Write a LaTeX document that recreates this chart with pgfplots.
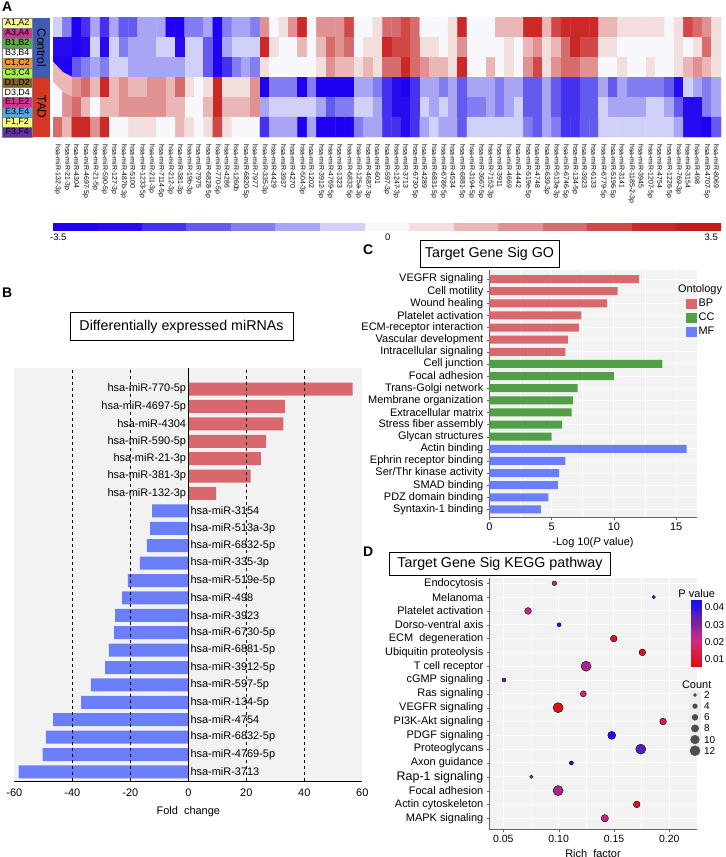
\documentclass[border=0pt]{standalone}
\usepackage{fontspec}
\setmainfont{Liberation Sans}
\usepackage{pgfplots}
\pgfplotsset{compat=1.18}

\newcommand{\fsz}[1]{\fontsize{#1}{#1}\selectfont}

\definecolor{upred}{RGB}{217,104,110}
\definecolor{dnblue}{RGB}{106,127,247}
\definecolor{ccgreen}{RGB}{82,160,70}
\definecolor{ctrlblue}{RGB}{60,92,182}
\definecolor{tadred}{RGB}{214,56,38}
\definecolor{sYel}{RGB}{250,250,130}
\definecolor{sMag}{RGB}{212,50,150}
\definecolor{sGrn}{RGB}{90,170,70}
\definecolor{sOra}{RGB}{240,150,50}
\definecolor{sLim}{RGB}{170,240,60}
\definecolor{sBrn}{RGB}{130,95,35}
\definecolor{sLbl}{RGB}{90,165,225}
\definecolor{sPur}{RGB}{100,50,160}

\pgfplotsset{
  every axis/.append style={/pgf/number format/assume math mode=true},
  twodec/.style={/pgf/number format/fixed, /pgf/number format/fixed zerofill,
    /pgf/number format/precision=2},
  colormap={pv}{rgb255(5.7pt)=(216,16,16) rgb255(10pt)=(216,24,40) rgb255(15pt)=(214,32,80)
    rgb255(20pt)=(210,40,128) rgb255(25pt)=(176,40,144) rgb255(30pt)=(128,32,160)
    rgb255(35pt)=(96,32,184) rgb255(40pt)=(48,16,224) rgb255(44.2pt)=(24,16,240)},
  colormap={heat}{rgb255=(32,0,240) rgb255=(40,10,238) rgb255=(70,50,238)
    rgb255=(100,90,240) rgb255=(130,125,242) rgb255=(168,165,245) rgb255=(208,208,248)
    rgb255=(248,248,252) rgb255=(243,222,222) rgb255=(234,182,182) rgb255=(224,146,146)
    rgb255=(215,108,108) rgb255=(208,72,72) rgb255=(203,40,40) rgb255=(200,28,28)},
}

\begin{document}
\begin{tikzpicture}
\useasboundingbox (0,0) rectangle (726bp,-857bp);

%% ---------- A: heatmap
\begin{axis}[
  at={(53bp,-137bp)}, anchor=south west,
  scale only axis, width=668bp, height=120bp,
  xmin=-0.5, xmax=70.5, ymin=-0.5, ymax=5.5, y dir=reverse,
  axis line style={draw=none}, major tick length=0pt,
  ytick=\empty, xtick={0,...,70},
  xticklabels={hsa-miR-132-3p,hsa-miR-21-3p,hsa-miR-4304,hsa-miR-4697-5p,hsa-miR-21-5p,
    hsa-miR-590-5p,hsa-miR-127-3p,hsa-miR-487b-3p,hsa-miR-5100,hsa-miR-1233-5p,
    hsa-miR-211-3p,hsa-miR-7114-5p,hsa-miR-212-3p,hsa-miR-381-3p,hsa-miR-19b-3p,
    hsa-miR-7975,hsa-miR-6828-5p,hsa-miR-770-5p,hsa-miR-4286,hsa-miR-1260b,
    hsa-miR-6820-5p,hsa-miR-7977,hsa-miR-335-3p,hsa-miR-4429,hsa-miR-3937,
    hsa-miR-4270,hsa-miR-504-3p,hsa-miR-1202,hsa-miR-3912-5p,hsa-miR-4769-5p,
    hsa-miR-1323,hsa-miR-6832-5p,hsa-miR-125a-3p,hsa-miR-4687-3p,hsa-miR-601,
    hsa-miR-597-3p,hsa-miR-1247-3p,hsa-miR-3713,hsa-miR-6730-5p,hsa-miR-4289,
    hsa-miR-6831-5p,hsa-miR-6786-5p,hsa-miR-4534,hsa-miR-6881-5p,hsa-miR-3194-5p,
    hsa-miR-3667-5p,hsa-miR-7152-3p,hsa-miR-3911,hsa-miR-4669,hsa-miR-4442,
    hsa-miR-519e-5p,hsa-miR-4748,hsa-miR-639-3p,hsa-miR-513a-3p,hsa-miR-6746-5p,
    hsa-miR-134-5p,hsa-miR-3923,hsa-miR-6133,hsa-miR-6779-5p,hsa-miR-5196-5p,
    hsa-miR-3141,hsa-miR-1185-2-3p,hsa-miR-3945,hsa-miR-1207-5p,hsa-miR-4754,
    hsa-miR-1226-5p,hsa-miR-769-3p,hsa-miR-3154,hsa-miR-498,hsa-miR-4707-5p,hsa-miR-8069},
  xticklabel style={rotate=-90, anchor=west, font=\fsz{7}, inner sep=0pt},
  xticklabel shift=7bp,
  colormap name=heat, colormap access=direct,
]
\addplot[matrix plot*, mesh/cols=71, mesh/rows=6, point meta=explicit]
  table[header=false, row sep=\\, x expr={mod(\coordindex,71)}, y expr={floor(\coordindex/71)},
        meta expr={int(\thisrowno{0}+7)}] {
-1\\-3\\-7\\-5\\-2\\-5\\-2\\-4\\-4\\-2\\-2\\-2\\-7\\-7\\-3\\-3\\-2\\-7\\-3\\-2\\-2\\-3\\
3\\0\\1\\3\\6\\0\\3\\3\\3\\5\\0\\0\\1\\4\\4\\5\\4\\0\\0\\0\\1\\6\\0\\0\\0\\2\\2\\2\\6\\6\\2\\5\\6\\6\\6\\6\\2\\2\\1\\1\\1\\1\\1\\0\\1\\5\\4\\3\\1\\
-6\\-6\\-7\\-6\\-1\\-6\\-1\\-3\\-2\\-2\\-2\\-1\\-1\\-6\\-1\\-1\\-4\\-7\\-2\\-1\\-1\\-1\\
6\\1\\0\\0\\2\\0\\2\\4\\3\\4\\0\\1\\1\\6\\5\\5\\4\\1\\1\\0\\1\\3\\0\\0\\0\\0\\1\\0\\2\\3\\1\\2\\4\\6\\5\\5\\1\\1\\0\\0\\0\\0\\0\\0\\1\\0\\1\\4\\1\\
-7\\-7\\-4\\-3\\-2\\-3\\-1\\-1\\-2\\-2\\-2\\-2\\-2\\-2\\-1\\-1\\-4\\-7\\-5\\-3\\-2\\-3\\
1\\0\\0\\0\\0\\0\\1\\3\\2\\2\\1\\2\\1\\4\\4\\6\\4\\3\\2\\2\\1\\6\\0\\0\\2\\0\\1\\0\\3\\5\\1\\3\\4\\4\\3\\3\\0\\0\\1\\0\\0\\1\\0\\0\\1\\2\\3\\2\\1\\
2\\2\\3\\4\\2\\6\\2\\3\\2\\2\\3\\3\\2\\4\\1\\0\\1\\6\\1\\1\\1\\3\\
-7\\-3\\-3\\-3\\-7\\-3\\-7\\-7\\-7\\-7\\-2\\-2\\-3\\-5\\-6\\-7\\-5\\-2\\-2\\-3\\-2\\-4\\-2\\-2\\-2\\-3\\-2\\-2\\-4\\-4\\-2\\-4\\-5\\-5\\-4\\-4\\-2\\-4\\-2\\-3\\-3\\-3\\-3\\-4\\-6\\-1\\-2\\-3\\-2\\
0\\3\\4\\2\\0\\2\\2\\3\\3\\3\\3\\3\\2\\2\\0\\0\\2\\6\\2\\2\\2\\3\\
-2\\-1\\-1\\-1\\-1\\-1\\-2\\-4\\-3\\-3\\-1\\-1\\-2\\-5\\-6\\-6\\-5\\-1\\-2\\-1\\-2\\-4\\-3\\-3\\-2\\-3\\-2\\-1\\-4\\-4\\-2\\-4\\-5\\-5\\-4\\-4\\-1\\-2\\-2\\-2\\-2\\-1\\-1\\-2\\-4\\-6\\-6\\-3\\-2\\
4\\2\\6\\6\\3\\6\\0\\0\\1\\1\\1\\0\\0\\2\\1\\0\\1\\5\\1\\0\\0\\0\\
-5\\-2\\-2\\-2\\-7\\-2\\-7\\-7\\-7\\-7\\-3\\-2\\-2\\-5\\-5\\-6\\-5\\-2\\-1\\-2\\-2\\-4\\-1\\-1\\-1\\-1\\-1\\-1\\-3\\-4\\-2\\-3\\-5\\-5\\-4\\-4\\-1\\-1\\-1\\-1\\-1\\-1\\-1\\-1\\-2\\-6\\-6\\-7\\-4\\
};
\end{axis}

%% heatmap colour key
\begin{axis}[
  at={(53bp,-230bp)}, anchor=south west,
  scale only axis, width=668bp, height=7bp,
  xmin=-0.5, xmax=14.5, ymin=-0.5, ymax=1.5, hide axis,
  colormap name=heat, colormap access=direct,
]
\addplot[matrix plot*, mesh/cols=15, mesh/rows=2, point meta=explicit] table[meta=c] {
x y c
0 0 0
1 0 1
2 0 2
3 0 3
4 0 4
5 0 5
6 0 6
7 0 7
8 0 8
9 0 9
10 0 10
11 0 11
12 0 12
13 0 13
14 0 14
0 1 0
1 1 1
2 1 2
3 1 3
4 1 4
5 1 5
6 1 6
7 1 7
8 1 8
9 1 9
10 1 10
11 1 11
12 1 12
13 1 13
14 1 14
};
\end{axis}
\node[font=\fsz{9.5}, anchor=west, inner sep=0] at (50bp,-237bp) {-3.5};
\node[font=\fsz{9.5}, inner sep=0] at (387.7bp,-237bp) {0};
\node[font=\fsz{9.5}, anchor=east, inner sep=0] at (718bp,-237bp) {3.5};

%% ---------- B: fold change
\begin{axis}[
  at={(14.3bp,-781bp)}, anchor=south west,
  scale only axis, width=348bp, height=413bp,
  xmin=-60, xmax=60, ymin=-0.52, ymax=23.21,
  axis background/.style={fill=black!5},
  axis x line=bottom, axis y line=none, axis line style={-, black, line width=0.8bp},
  xtick={-60,-40,...,60}, major tick length=0pt,
  xticklabel style={font=\fsz{11}, yshift=-4bp},
  xlabel={Fold~~change}, xlabel style={font=\fsz{11}, yshift=-3bp},
  bar width=13bp,
]
\addplot[xbar, fill=upred, draw=none] table[x=v, y=y] {
y v
22 56.7
21 33.3
20 32.8
19 26.8
18 25.0
17 21.5
16 9.6
};
\addplot[xbar, fill=dnblue, draw=none] table[x=v, y=y] {
y v
15 -12.5
14 -13.2
13 -14.3
12 -16.7
11 -20.8
10 -22.8
9 -25.2
8 -25.6
7 -27.4
6 -28.7
5 -33.6
4 -37.0
3 -46.6
2 -49.1
1 -50.2
0 -58.5
};
\addplot[black, line width=0.6bp, dash pattern=on 3.5bp off 2.5bp] coordinates {(-40,-0.52) (-40,23.21)};
\addplot[black, line width=0.6bp, dash pattern=on 3.5bp off 2.5bp] coordinates {(-20,-0.52) (-20,23.21)};
\addplot[black, line width=0.6bp, dash pattern=on 3.5bp off 2.5bp] coordinates {(20,-0.52) (20,23.21)};
\addplot[black, line width=0.6bp, dash pattern=on 3.5bp off 2.5bp] coordinates {(40,-0.52) (40,23.21)};
\addplot[black, line width=0.8bp] coordinates {(0,-0.52) (0,23.21)};
\addplot[only marks, mark=*, mark size=0pt, mark options={draw=none, fill=none},
  nodes near coords, point meta=explicit symbolic,
  nodes near coords style={anchor=east, font=\fsz{11}, inner sep=0pt, xshift=-2bp}]
  table[x=x, y=y, meta=lab] {
x y lab
0 22 hsa-miR-770-5p
0 21 hsa-miR-4697-5p
0 20 hsa-miR-4304
0 19 hsa-miR-590-5p
0 18 hsa-miR-21-3p
0 17 hsa-miR-381-3p
0 16 hsa-miR-132-3p
};
\addplot[only marks, mark=*, mark size=0pt, mark options={draw=none, fill=none},
  nodes near coords, point meta=explicit symbolic,
  nodes near coords style={anchor=west, font=\fsz{11}, inner sep=0pt, xshift=2bp}]
  table[x=x, y=y, meta=lab] {
x y lab
0 15 hsa-miR-3154
0 14 hsa-miR-513a-3p
0 13 hsa-miR-6832-5p
0 12 hsa-miR-335-3p
0 11 hsa-miR-519e-5p
0 10 hsa-miR-498
0 9 hsa-miR-3923
0 8 hsa-miR-6730-5p
0 7 hsa-miR-6881-5p
0 6 hsa-miR-3912-5p
0 5 hsa-miR-597-5p
0 4 hsa-miR-134-5p
0 3 hsa-miR-4754
0 2 hsa-miR-6832-5p
0 1 hsa-miR-4769-5p
0 0 hsa-miR-3713
};
\end{axis}

%% ---------- C: GO
\begin{axis}[
  at={(489.3bp,-517.3bp)}, anchor=south west,
  scale only axis, width=207.4bp, height=247.3bp,
  xbar, bar width=8bp, /pgf/bar shift=0pt,
  xmin=0, xmax=16.65, ymin=-0.65, ymax=19.75,
  axis background/.style={fill=black!5},
  axis x line*=bottom, axis y line*=left, axis line style={-, draw=black!60},
  xtick={0,5,10,15}, minor xtick={2.5,7.5,12.5}, ytick={0,...,19},
  yticklabels={Syntaxin-1 binding, PDZ domain binding, SMAD binding, Ser/Thr kinase activity,
    Ephrin receptor binding, Actin binding, Glycan structures, Stress fiber assembly,
    Extracellular matrix, Membrane organization, Trans-Golgi network, Focal adhesion,
    Cell junction, Intracellular signaling, Vascular development, ECM-receptor interaction,
    Platelet activation, Wound healing, Cell motility, VEGFR signaling},
  grid=both, major grid style={white, line width=1bp}, minor grid style={white, line width=0.5bp},
  tick align=outside, major tick length=2.5bp, minor tick length=0pt, tick style={black!60},
  ticklabel style={font=\fsz{11}},
  xlabel={-Log 10(\textit{P} value)}, xlabel style={font=\fsz{11}},
  legend image code/.code={\fill[#1] (0bp,-4.7bp) rectangle (11.3bp,4.7bp);},
  legend style={at={(0.948,0.887)}, anchor=north west, draw=none, fill=none,
    font=\fsz{11}, inner sep=0pt, row sep=2.5bp, nodes={inner sep=1.2bp}},
  legend cell align=left,
]
\addplot[fill=upred, draw=none] table[x=v, y=y] {
y v
19 12.0
18 10.3
17 9.45
16 7.4
15 7.2
14 6.3
13 6.1
};
\addlegendentry{BP}
\addplot[fill=ccgreen, draw=none] table[x=v, y=y] {
y v
12 13.9
11 10.0
10 7.1
9 6.7
8 6.6
7 5.85
6 5.0
};
\addlegendentry{CC}
\addplot[fill=dnblue, draw=none] table[x=v, y=y] {
y v
5 15.85
4 6.1
3 5.6
2 5.5
1 4.75
0 4.15
};
\addlegendentry{MF}
\end{axis}
\node[anchor=west, font=\fsz{11}, inner sep=0] at (678bp,-290bp) {Ontology};

%% ---------- D: KEGG
\begin{axis}[
  at={(489.3bp,-829.3bp)}, anchor=south west,
  scale only axis, width=207.4bp, height=251bp,
  xmin=0.0373, xmax=0.2248, ymin=0.2, ymax=18.36,
  axis background/.style={fill=black!5},
  axis x line*=bottom, axis y line*=left, axis line style={-, draw=black!60},
  xtick={0.05,0.10,0.15,0.20}, minor xtick={0.075,0.125,0.175}, ytick={1,...,18},
  xticklabel style={font=\fsz{10.5}, twodec},
  yticklabel style={font=\fsz{11}},
  yticklabels={MAPK signaling, Actin cytoskeleton, Focal adhesion, {\fsz{12.5}Rap-1 signaling},
    Axon guidance, Proteoglycans, PDGF signaling, PI3K-Akt signaling, VEGFR signaling,
    Ras signaling, cGMP signaling, T cell receptor, Ubiquitin proteolysis, ECM~~degeneration,
    Dorso-ventral axis, Platelet activation, Melanoma, Endocytosis},
  grid=both, major grid style={white, line width=1bp}, minor grid style={white, line width=0.5bp},
  tick align=outside, major tick length=2.5bp, minor tick length=0pt, tick style={black!60},
  xlabel={Rich~~factor}, xlabel style={font=\fsz{11}},
  colormap name=pv, point meta min=0.0057, point meta max=0.0442,
]
\addplot[scatter, only marks, mark=*, point meta=explicit,
  scatter/use mapped color={draw=none, fill=mapped color},
  visualization depends on={\thisrow{n} \as \cnt},
  scatter/@pre marker code/.append style={/tikz/mark size=1bp+0.335bp*\cnt}]
  table[x=rf, y=y, meta=p] {
y rf n p
18 0.0961 4 0.022
17 0.186 2 0.035
16 0.0723 7 0.021
15 0.1004 3 0.043
14 0.1498 7 0.008
13 0.1757 7 0.008
12 0.1248 12 0.026
11 0.0506 3 0.033
10 0.1223 6 0.021
9 0.0995 12 0.007
8 0.1944 7 0.014
7 0.148 9 0.043
6 0.1742 12 0.036
5 0.1115 3 0.043
4 0.0753 2 0.021
3 0.0995 12 0.026
2 0.1706 7 0.008
1 0.1417 8 0.022
};
\end{axis}

%% P value colour key
\begin{axis}[
  at={(690.7bp,-666.3bp)}, anchor=south west,
  scale only axis, width=10.6bp, height=66bp,
  xmin=0, xmax=1, ymin=0.0057, ymax=0.0442,
  axis line style={draw=none}, xtick=\empty,
  ytick={0.01,0.02,0.03,0.04}, yticklabel pos=right, scaled y ticks=false,
  major tick length=0pt, yticklabel style={font=\fsz{10}, twodec},
  colormap name=pv, point meta min=0.0057, point meta max=0.0442,
]
\addplot[patch, patch type=rectangle, shader=interp, point meta=y]
  coordinates {(0,0.0057) (1,0.0057) (1,0.0442) (0,0.0442)};
\end{axis}
\node[font=\fsz{11}, inner sep=0] at (696.7bp,-593.3bp) {P value};
\node[font=\fsz{11}, inner sep=0] at (696.7bp,-684.3bp) {Count};

%% count key
\fill[black!7] (689bp,-691bp) rectangle (701.3bp,-755.3bp);
\begin{axis}[
  at={(685bp,-757bp)}, anchor=south west,
  scale only axis, width=37bp, height=72bp,
  xmin=0, xmax=1, ymin=0.2, ymax=13.13, y dir=reverse, hide axis, clip=false,
]
\addplot[only marks, mark=*, black!70, point meta=explicit,
  nodes near coords, nodes near coords style={anchor=west, font=\fsz{10}, inner sep=0pt, black, xshift=9bp},
  visualization depends on={\thisrow{y} \as \cnt},
  scatter/@pre marker code/.append style={/tikz/mark size=1bp+0.335bp*\cnt}]
  table[x=x, y=y, meta=y] {
x y
0.27 2
0.27 4
0.27 6
0.27 8
0.27 10
0.27 12
};
\end{axis}

%% titles and panel letters
\node[draw, line width=0.8bp, minimum width=223bp, minimum height=28.5bp, inner sep=0, font=\fsz{14.3}]
  at (181.5bp,-326.5bp) {Differentially expressed miRNAs};
\node[draw, line width=0.8bp, minimum width=139bp, minimum height=27.3bp, inner sep=0, font=\fsz{14.3}]
  at (489.5bp,-253.7bp) {Target Gene Sig GO};
\node[draw, line width=0.8bp, minimum width=221.4bp, minimum height=23bp, inner sep=0, font=\fsz{14.3}]
  at (500bp,-564.2bp) {Target Gene Sig KEGG pathway};
\node[anchor=north west, inner sep=0, font=\fsz{14}\bfseries] at (2bp,-2bp) {A};
\node[anchor=north west, inner sep=0, font=\fsz{14}\bfseries] at (2bp,-288bp) {B};
\node[anchor=north west, inner sep=0, font=\fsz{14}\bfseries] at (363bp,-245bp) {C};
\node[anchor=north west, inner sep=0, font=\fsz{14}\bfseries] at (363bp,-547bp) {D};

%% sample annotation of panel A, drawn last
\foreach \c/\t [count=\i from 0] in {sYel/{A1,A2}, sMag/{A3,A4}, sGrn/{B1,B2}, white/{B3,B4},
    sOra/{C1,C2}, sLim/{C3,C4}, sBrn/{D1,D2}, white/{D3,D4}, sMag/{E1,E2}, sLbl/{E3,E4},
    sYel/{F1,F2}, sPur/{F3,F4}} {
  \node[draw=black!50, fill=\c, minimum width=30.5bp, minimum height=9.87bp, inner sep=0,
        anchor=north west, font=\fsz{9}] at (1.8bp,{-18.3bp-9.87bp*\i}) {\t};
}
\fill[ctrlblue] (33.3bp,-18.3bp) rectangle (50bp,-77.5bp);
\fill[tadred] (33.3bp,-77.5bp) rectangle (50bp,-136.7bp);
\node[rotate=-90, font=\fsz{12}, inner sep=0] at (41.7bp,-47.9bp) {Control};
\node[rotate=-90, font=\fsz{12}, inner sep=0] at (41.7bp,-107.1bp) {TAD};
\end{tikzpicture}
\end{document}
